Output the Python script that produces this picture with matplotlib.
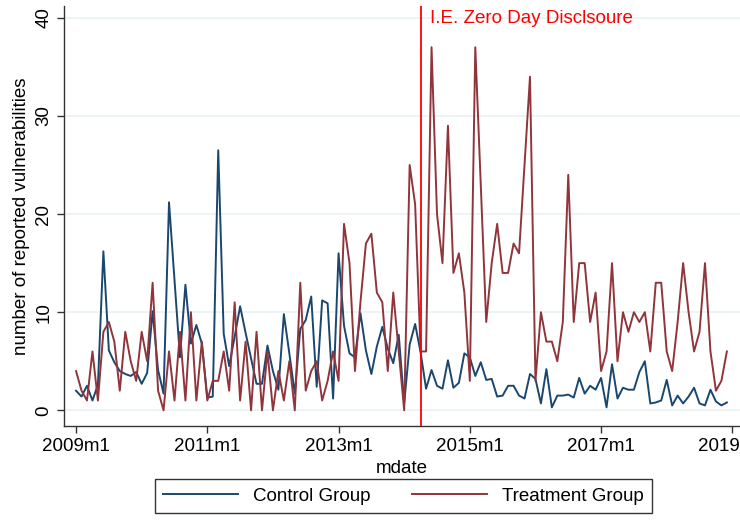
import numpy as np
import pandas as pd
import matplotlib
matplotlib.use("Agg")
import matplotlib.pyplot as plt

plt.rcParams['font.family'] = ['Liberation Sans', 'DejaVu Sans']

# monthly counts, 2009m1 .. 2018m12
control = [2.0, 1.4, 2.5, 1.0, 2.6, 16.2, 6.1, 4.9, 4.0, 3.7, 3.5, 3.9,
           2.7, 3.8, 10.1, 4.1, 1.7, 21.2, 13.3, 5.4, 12.8, 6.8, 8.7, 6.8,
           1.3, 1.4, 26.5, 7.8, 4.5, 7.5, 10.6, 7.9, 5.3, 2.7, 2.7, 6.6,
           4.0, 2.1, 9.8, 5.8, 1.7, 8.3, 9.2, 11.6, 2.4, 11.2, 10.9, 1.2,
           16.0, 8.6, 5.8, 5.4, 9.9, 6.1, 3.7, 6.5, 8.5, 6.3, 4.8, 7.7,
           0.7, 6.7, 8.8, 5.9, 2.2, 4.1, 2.5, 2.2, 5.1, 2.3, 2.8, 5.8,
           5.4, 3.5, 4.9, 3.1, 3.2, 1.4, 1.5, 2.5, 2.5, 1.5, 1.2, 3.7,
           3.2, 0.7, 4.2, 0.3, 1.5, 1.5, 1.6, 1.3, 3.3, 1.7, 2.5, 2.1,
           3.3, 0.3, 4.7, 1.2, 2.3, 2.1, 2.1, 3.9, 5.0, 0.7, 0.8, 1.0,
           3.1, 0.5, 1.5, 0.7, 1.4, 2.3, 0.7, 0.5, 2.1, 0.9, 0.5, 0.8]
treatment = [4, 2, 1, 6, 1, 8, 9, 7, 2, 8, 5, 3,
             8, 5, 13, 2, 0, 6, 1, 8, 1, 10, 1, 7,
             1, 3, 3, 6, 2, 11, 1, 7, 0, 8, 0, 6,
             0, 4, 1, 5, 0, 13, 2, 4, 5, 1, 3, 6,
             3, 19, 15, 4, 11, 17, 18, 12, 11, 4, 12, 6,
             0, 25, 21, 6, 6, 37, 20, 15, 29, 14, 16, 12,
             3, 37, 23, 9, 15, 19, 14, 14, 17, 16, 25, 34,
             3, 10, 7, 7, 5, 9, 24, 9, 15, 15, 9, 12,
             4, 6, 15, 5, 10, 8, 10, 9, 10, 6, 13, 13,
             6, 4, 9, 15, 10, 6, 8, 15, 6, 2, 3, 6]
event_month = "2014-04"
event_label = "I.E. Zero Day Disclsoure"
tick_years = [2009, 2011, 2013, 2015, 2017, 2019]

months = pd.period_range("2009-01", periods=len(control), freq="M")
x = np.arange(len(months))
x_event = (pd.Period(event_month, "M") - months[0]).n
xt = [(pd.Period(f"{y}-01", "M") - months[0]).n for y in tick_years]

C_CTRL = "#1a476f"
C_TRT = "#90353b"
GRID = "#eaf2f3"
FS = 13.5

fig = plt.figure(figsize=(7.4, 5.24), dpi=100)
ax = fig.add_axes([0.0865, 0.187, 0.9135, 0.8015])

ax.plot(x, control, color=C_CTRL, lw=1.4, label="Control Group", zorder=3)
ax.plot(x, treatment, color=C_TRT, lw=1.4, label="Treatment Group", zorder=3)
ax.axvline(x_event, color="red", lw=1.3, zorder=4)
ax.annotate(event_label, xy=(x_event, 1), xycoords=("data", "axes fraction"),
            xytext=(7, -3), textcoords="offset points", ha="left", va="top",
            color="red", fontsize=FS)

ax.set_xlim(-2.2, 121.4)
ax.set_ylim(-1.6, 41.2)
ax.set_yticks([0, 10, 20, 30, 40])
ax.set_yticklabels(["0", "10", "20", "30", "40"], rotation=90, va="center")
ax.set_xticks(xt)
ax.set_xticklabels([f"{y}m1" for y in tick_years])
ax.tick_params(labelsize=FS, length=5, width=1, color="#333333")
ax.grid(axis="y", color=GRID, lw=1.2)
ax.set_axisbelow(True)
for s in ["top", "right"]:
    ax.spines[s].set_visible(False)
for s in ["left", "bottom"]:
    ax.spines[s].set_color("#333333")
    ax.spines[s].set_linewidth(1)
ax.set_xlabel("mdate", fontsize=FS, labelpad=4)
ax.set_ylabel("number of reported vulnerabilities", fontsize=FS, labelpad=4)

fig.legend(loc="lower center", bbox_to_anchor=(0.545, 0.003), ncol=2,
           fontsize=FS, frameon=True, fancybox=False, edgecolor="black",
           handlelength=4.0, columnspacing=2.2, borderpad=0.45)

fig.savefig("out.png", dpi=100)
